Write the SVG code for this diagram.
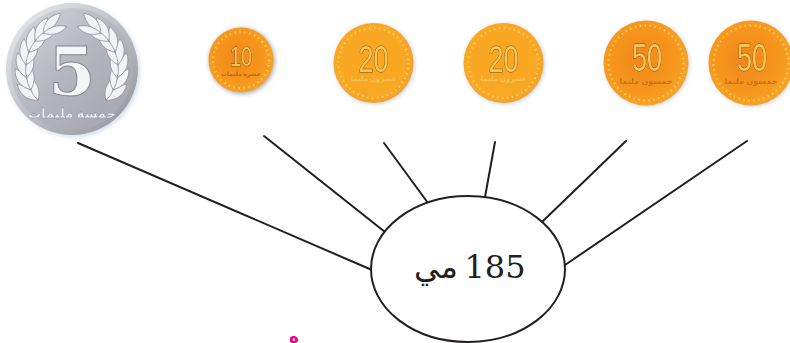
<svg xmlns="http://www.w3.org/2000/svg" xmlns:xlink="http://www.w3.org/1999/xlink" width="790" height="343" viewBox="0 0 790 343">
<style>
.ln{stroke:#231f20;stroke-width:2;fill:none;stroke-linecap:round}
.num{font-family:"Liberation Sans",sans-serif;fill:#f6c65a;stroke:#7a4a08;stroke-width:.9;text-anchor:middle;paint-order:stroke}
.sub{font-family:"Noto Sans","DejaVu Sans",sans-serif;text-anchor:middle;font-weight:bold}
.tick{fill:none;stroke:#ffd35c;stroke-width:2.4;stroke-dasharray:1.6 3.4;opacity:.85}
.lbl{font-family:"DejaVu Serif",serif;fill:#231f20;text-anchor:middle}
</style>
<defs>
<radialGradient id="or" cx=".45" cy=".45" r=".6"><stop offset="0" stop-color="#f0861a"/><stop offset=".7" stop-color="#f7981f"/><stop offset="1" stop-color="#f4a62a"/></radialGradient>
<radialGradient id="au" cx=".45" cy=".45" r=".6"><stop offset="0" stop-color="#f9a51f"/><stop offset=".75" stop-color="#f9a825"/><stop offset="1" stop-color="#f0a030"/></radialGradient>
<linearGradient id="sv" x1="0" y1="0" x2="1" y2="1"><stop offset="0" stop-color="#d5d7dc"/><stop offset=".5" stop-color="#b4b6bd"/><stop offset="1" stop-color="#a3a5ac"/></linearGradient>
<linearGradient id="rim" x1="0" y1="0" x2="1" y2="1"><stop offset="0" stop-color="#eeeff2"/><stop offset="1" stop-color="#8f919a"/></linearGradient>
<filter id="soft" x="-10%" y="-10%" width="120%" height="120%"><feGaussianBlur stdDeviation=".45"/></filter>
<filter id="sh" x="-15%" y="-15%" width="130%" height="130%"><feGaussianBlur stdDeviation="2"/></filter>
<g id="pair">
<path d="M26 68C17 60 17 50 22 42C28 50 29 60 26 68Z" fill="#f2f3f6" stroke="#8b8d96" stroke-width=".7"/>
<path d="M26 68C34 63 38 55 36 46C29 50 25 60 26 68Z" fill="#f2f3f6" stroke="#8b8d96" stroke-width=".7"/>
</g>
<g id="wreath">
<use href="#pair" transform="rotate(-44 72 69)"/>
<use href="#pair" transform="rotate(-28 72 69)"/>
<use href="#pair" transform="rotate(-12 72 69)"/>
<use href="#pair" transform="rotate(4 72 69)"/>
<use href="#pair" transform="rotate(20 72 69)"/>
<use href="#pair" transform="rotate(36 72 69)"/>
<use href="#pair" transform="rotate(50 72 69)"/>
</g>
</defs>
<g id="coin-5" filter="url(#soft)">
<circle cx="74" cy="71" r="66" fill="#b9cbdc" opacity=".6" filter="url(#sh)"/>
<circle cx="72" cy="69" r="66" fill="url(#rim)"/>
<circle cx="72" cy="69" r="61" fill="url(#sv)"/>
<use href="#wreath"/>
<use href="#wreath" transform="translate(144 0) scale(-1 1)"/>
<text x="72" y="95" font-family="DejaVu Serif,serif" font-weight="bold" font-size="68" fill="#f4f5f7" stroke="#85878f" stroke-width="1" text-anchor="middle">5</text>
<text class="sub" x="72" y="118" font-size="13" fill="#eef0f3" stroke="#85878f" stroke-width=".3" direction="rtl">خمسة مليمات</text>
</g>
<g id="coin-10" filter="url(#soft)">
<circle cx="242" cy="61" r="33" fill="#5d6f86" opacity=".55" filter="url(#sh)"/>
<circle cx="241" cy="60" r="32.5" fill="url(#or)"/>
<circle class="tick" cx="241" cy="60" r="28"/>
<text class="num" x="241" y="66" font-size="28" textLength="22" lengthAdjust="spacingAndGlyphs">10</text>
<text class="sub" x="241" y="76" font-size="6" fill="#c0600f">عشرة مليمات</text>
</g>
<g id="coin-20a" filter="url(#soft)">
<circle cx="374.500" cy="64" r="40" fill="#7a8ea6" opacity=".45" filter="url(#sh)"/>
<circle cx="373.500" cy="63" r="40" fill="url(#au)"/>
<circle class="tick" cx="373.500" cy="63" r="35"/>
<text class="num" x="373.500" y="72" font-size="37" textLength="30" lengthAdjust="spacingAndGlyphs">20</text>
<text class="sub" x="373.500" y="81" font-size="7" fill="#f5c35a">عشرون مليما</text>
</g>
<g id="coin-20b" filter="url(#soft)">
<circle cx="504.500" cy="64" r="40" fill="#7a8ea6" opacity=".45" filter="url(#sh)"/>
<circle cx="503.500" cy="63" r="40" fill="url(#au)"/>
<circle class="tick" cx="503.500" cy="63" r="35"/>
<text class="num" x="503.500" y="72" font-size="37" textLength="30" lengthAdjust="spacingAndGlyphs">20</text>
<text class="sub" x="503.500" y="81" font-size="7" fill="#f5c35a">عشرون مليما</text>
</g>
<g id="coin-50a" filter="url(#soft)">
<circle cx="647" cy="64" r="42.500" fill="#7a8ea6" opacity=".4" filter="url(#sh)"/>
<circle cx="646" cy="63" r="42.500" fill="url(#or)"/>
<circle class="tick" cx="646" cy="63" r="37.500"/>
<text class="num" x="647" y="71" font-size="38" textLength="30" lengthAdjust="spacingAndGlyphs">50</text>
<text class="sub" x="646" y="84" font-size="8" fill="#c9701c">خمسون مليما</text>
</g>
<g id="coin-50b" filter="url(#soft)">
<circle cx="752" cy="64" r="42.500" fill="#7a8ea6" opacity=".4" filter="url(#sh)"/>
<circle cx="751" cy="63" r="42.500" fill="url(#or)"/>
<circle class="tick" cx="751" cy="63" r="37.500"/>
<text class="num" x="752" y="71" font-size="38" textLength="30" lengthAdjust="spacingAndGlyphs">50</text>
<text class="sub" x="751" y="84" font-size="8" fill="#c9701c">خمسون مليما</text>
</g>
<g id="connectors">
<line class="ln" x1="78" y1="143" x2="372" y2="270"/>
<line class="ln" x1="264" y1="136" x2="385" y2="232"/>
<line class="ln" x1="384" y1="143" x2="428" y2="203"/>
<line class="ln" x1="495" y1="142" x2="485" y2="197"/>
<line class="ln" x1="626" y1="141" x2="543" y2="221"/>
<line class="ln" x1="747" y1="141" x2="565" y2="265"/>
</g>
<g id="center-node">
<ellipse cx="468" cy="269" rx="97" ry="73" fill="#fff" stroke="#231f20" stroke-width="2"/>
<text class="lbl" x="495" y="278" font-size="32">185</text>
<text x="436" y="278" font-family="Noto Sans,DejaVu Sans,sans-serif" font-size="32" fill="#231f20" text-anchor="middle" direction="rtl">مي</text>
</g>
<text id="mark" x="294" y="343" font-family="DejaVu Sans,sans-serif" font-size="17" font-weight="bold" fill="#ec008c" text-anchor="middle">ه</text>
</svg>
